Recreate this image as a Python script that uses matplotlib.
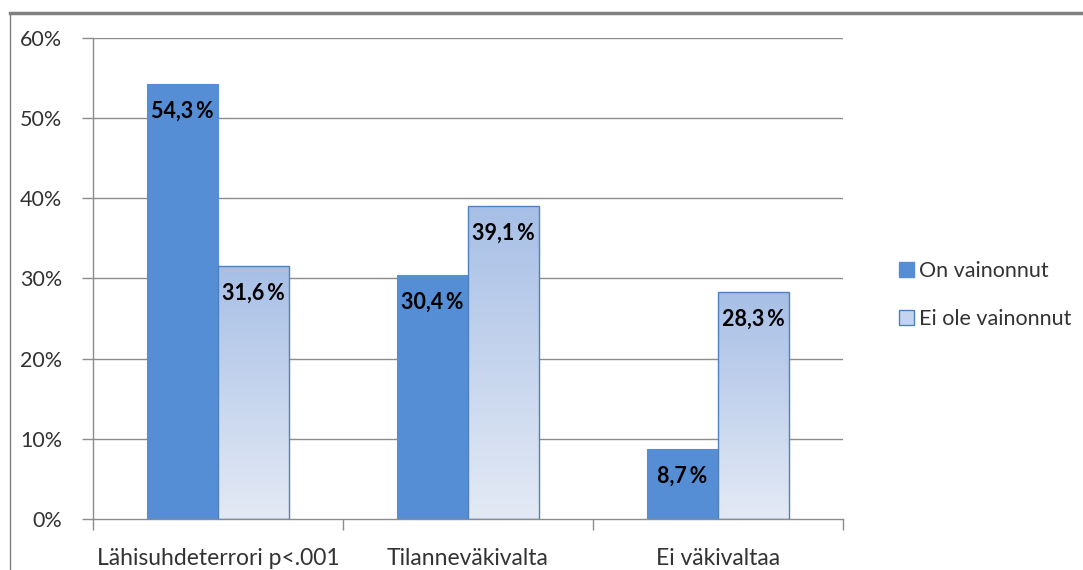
import matplotlib
matplotlib.use("Agg")
import matplotlib.pyplot as plt
import numpy as np
from matplotlib.patches import Patch
from matplotlib.lines import Line2D
from matplotlib.colors import LinearSegmentedColormap

categories = ["Lähisuhdeterrori p<.001", "Tilanneväkivalta", "Ei väkivaltaa"]
series_names = ["On vainonnut", "Ei ole vainonnut"]
on_vainonnut = [54.3, 30.4, 8.7]
ei_vainonnut = [31.6, 39.1, 28.3]
yticks = [0, 10, 20, 30, 40, 50, 60]
ytick_labels = ["0%", "10%", "20%", "30%", "40%", "50%", "60%"]

plt.rcParams['font.family'] = ['Lato', 'DejaVu Sans']

fig = plt.figure(figsize=(10.83, 5.70), dpi=100)
ax = fig.add_axes([0.0859, 0.0895, 0.6925, 0.8439])

x = np.arange(len(categories))
w = 0.285
solid = "#558ed5"
edge = "#4f81bd"
grad = LinearSegmentedColormap.from_list("g", ["#e4eaf5", "#a7bfe6"])

ax.set_xlim(-0.5, len(categories) - 0.5)
ax.set_ylim(0, 60)

for yv in yticks[1:]:
    ax.axhline(yv, color="#8c8c8c", lw=1.0, zorder=0)

b1 = ax.bar(x - w / 2, on_vainonnut, w, color=solid, edgecolor=solid, lw=0.8, zorder=2)
b2 = ax.bar(x + w / 2, ei_vainonnut, w, color="none", edgecolor=edge, lw=1.0, zorder=3)

gimg = np.linspace(0, 1, 256).reshape(-1, 1)
for bar in b2:
    bx, by = bar.get_x(), bar.get_y()
    bw, bh = bar.get_width(), bar.get_height()
    im = ax.imshow(gimg, cmap=grad, origin="lower", aspect="auto",
                   extent=[bx, bx + bw, by, by + bh], zorder=2)
    im.set_clip_path(bar)

for bars, vals in ((b1, on_vainonnut), (b2, ei_vainonnut)):
    for bar, v in zip(bars, vals):
        ax.text(bar.get_x() + bar.get_width() / 2, v - 3.4,
                f"{v:.1f}".replace(".", ",") + "\u2009%", ha="center", va="center",
                fontsize=15.5, fontweight="bold", color="black", zorder=5)

ax.set_yticks(yticks)
ax.set_yticklabels(ytick_labels, fontsize=15.5, color="#333333")
ax.set_xticks(x)
ax.set_xticklabels(categories, fontsize=16.5, color="#333333")
ax.set_xticks(np.arange(-0.5, len(categories), 1.0), minor=True)
ax.tick_params(axis="x", which="major", length=0, pad=21)
ax.tick_params(axis="x", which="minor", length=8, color="#8c8c8c", width=1)
ax.tick_params(axis="y", length=8, color="#8c8c8c", width=1, pad=14)

for s in ("top", "right"):
    ax.spines[s].set_visible(False)
for s in ("left", "bottom"):
    ax.spines[s].set_color("#8c8c8c")
    ax.spines[s].set_linewidth(1.0)

handles = [Patch(facecolor=solid, edgecolor=solid),
           Patch(facecolor="#c5d4ee", edgecolor=edge)]
fig.legend(handles, series_names, loc="center left",
           bbox_to_anchor=(0.812, 0.483), frameon=False, fontsize=15.5,
           handlelength=0.7, handleheight=0.7, handletextpad=0.25,
           labelspacing=1.3, labelcolor="#333333")

fig.add_artist(Line2D([10 / 1083, 1.0], [1 - 13 / 570, 1 - 13 / 570],
                      color="#808080", lw=2.5))
fig.add_artist(Line2D([10 / 1083, 10 / 1083], [0, 1 - 13 / 570],
                      color="#808080", lw=1.0))

fig.savefig("out.png", dpi=100)
